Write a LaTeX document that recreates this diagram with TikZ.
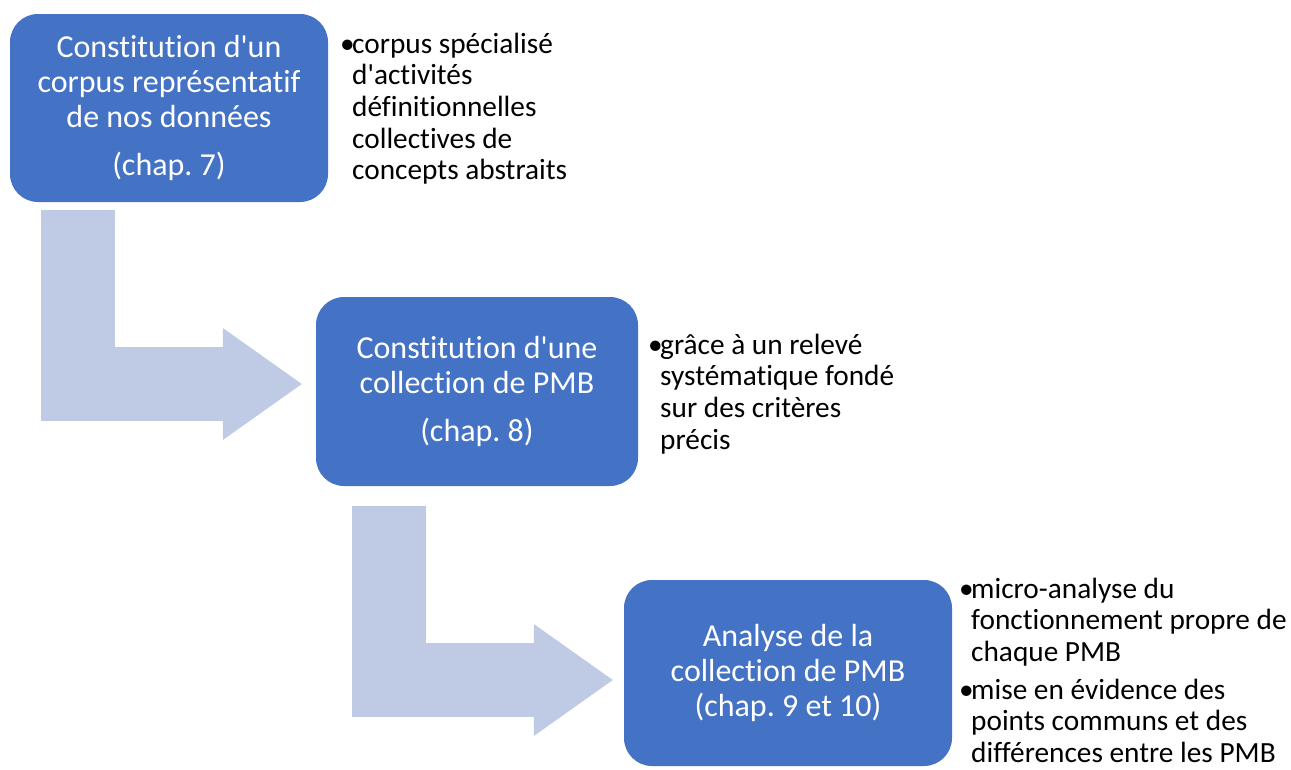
\documentclass[tikz,border=0pt]{standalone}
\usepackage{fontspec}
\setmainfont{Carlito}[Ligatures=NoCommon]
\usetikzlibrary{arrows.meta}
\definecolor{boxblue}{RGB}{68,114,196}
\definecolor{arrowblue}{RGB}{191,202,228}
\newcommand{\bul}{\makebox[12pt][l]{•}}
\newcommand{\apos}{\textquotesingle}
\frenchspacing
\begin{document}
\begin{tikzpicture}[x=1pt,y=-1pt,
  stepbox/.style={fill=boxblue, rounded corners=28pt, text=white, align=center,
    font=\fontsize{32}{35}\selectfont, inner sep=0pt},
  bent/.style={draw=arrowblue, line width=74pt, line join=miter,
    -{Triangle[length=79pt,width=112pt,line width=0pt,fill=arrowblue]}},
  bullets/.style={anchor=base west, inner sep=0pt, font=\fontsize{29.3}{31.7}\selectfont}]
\useasboundingbox (0,0) rectangle (1291,769);

\node[stepbox, minimum width=318pt, minimum height=188pt] (b1) at (169,108)
  {Constitution d\apos un\\corpus représentatif\\de nos données\\[13pt](chap. 7)};
\node[stepbox, minimum width=322pt, minimum height=189pt] (b2) at (477,391.5)
  {Constitution d\apos une\\collection de PMB\\[13pt](chap. 8)};
\node[stepbox, minimum width=328pt, minimum height=186pt] (b3) at (788,673)
  {Analyse de la\\collection de PMB\\(chap. 9 et 10)};

\draw[bent] ([xshift=68.5pt,yshift=-8pt]b1.south west) |- ([xshift=-14pt,yshift=7.5pt]b2.west);
\draw[bent] ([xshift=73pt,yshift=-20pt]b2.south west) |- ([xshift=-11pt,yshift=-7pt]b3.west);

\node[bullets] (t1) at (340,53) {\begin{tabular}[t]{@{}l@{}l@{}}
\bul & corpus spécialisé\\
 & d\apos activités\\
 & définitionnelles\\
 & collectives de\\
 & concepts abstraits
\end{tabular}};

\node[bullets] (t2) at (648,354) {\begin{tabular}[t]{@{}l@{}l@{}}
\bul & grâce à un relevé\\
 & systématique fondé\\
 & sur des critères\\
 & précis
\end{tabular}};

\node[bullets] (t3) at (959,598) {\begin{tabular}[t]{@{}l@{}l@{}}
\bul & micro-analyse du\\
 & fonctionnement propre de\\
 & chaque PMB\\[6pt]
\bul & mise en évidence des\\
 & points communs et des\\
 & différences entre les PMB
\end{tabular}};
\end{tikzpicture}
\end{document}
